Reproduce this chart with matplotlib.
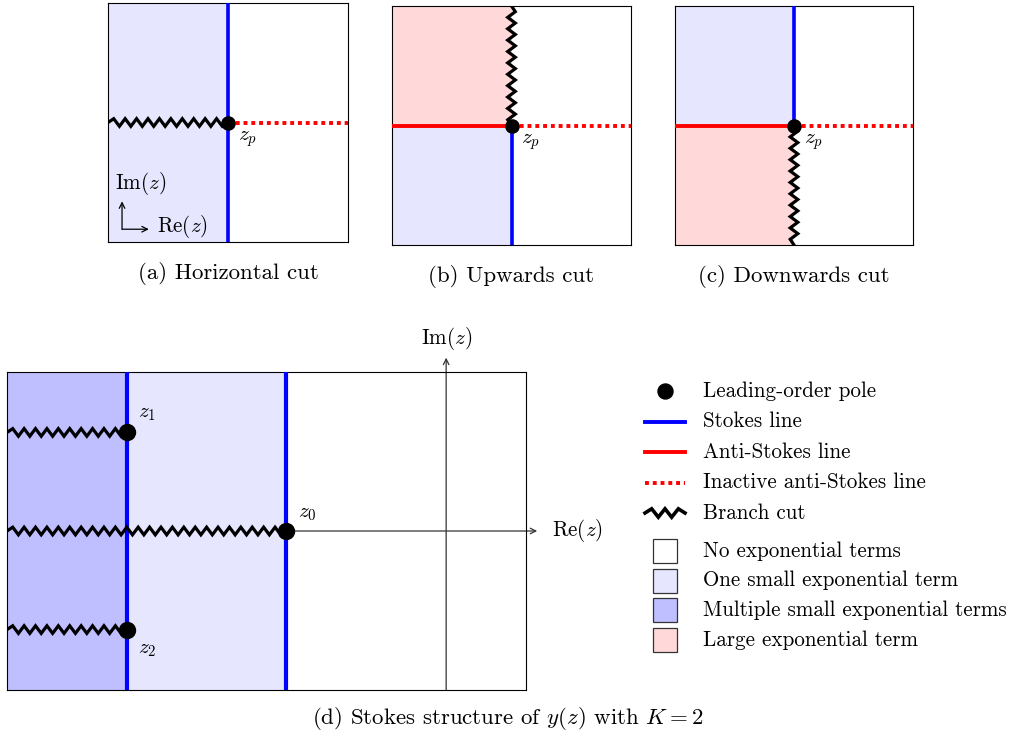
import numpy as np
import matplotlib
matplotlib.use("Agg")
import matplotlib.pyplot as plt
from matplotlib.patches import Rectangle

plt.rcParams['font.family'] = 'serif'
plt.rcParams['font.serif'] = ['cmr10']
plt.rcParams['mathtext.fontset'] = 'cm'
plt.rcParams['axes.unicode_minus'] = False

# colours (tikz-style tints)
STOKES = '#0000FF'
ANTI = '#FF0000'
ONE_SMALL = '#E6E6FF'
MULTI_SMALL = '#BFBFFF'
LARGE = '#FFD9D9'

# small panels: pole sits at the origin of a [-1, 1] box
zp = (0.0, 0.0)
panel_titles = ['(a) Horizontal cut', '(b) Upwards cut', '(c) Downwards cut']

# panel (d): pole positions in the complex plane
pole_re = [-1.0, -2.0, -2.0]
pole_im = [0.0, 0.62, -0.62]
pole_names = ['$z_0$', '$z_1$', '$z_2$']
stokes_re = [-2.0, -1.0]
re_lim = (-2.75, 0.5)
im_lim = (-1.0, 1.0)

line_labels = ['Leading-order pole', 'Stokes line', 'Anti-Stokes line',
               'Inactive anti-Stokes line', 'Branch cut']
region_labels = ['No exponential terms', 'One small exponential term',
                 'Multiple small exponential terms', 'Large exponential term']
region_colors = ['white', ONE_SMALL, MULTI_SMALL, LARGE]

W, H = 1015, 736
fig = plt.figure(figsize=(W / 100, H / 100), dpi=100)
FS = 15.2      # labels and legend
FS_CAP = 16.5  # sub-captions


def px_axes(x0, y0, x1, y1):
    ax = fig.add_axes([x0 / W, 1 - y1 / H, (x1 - x0) / W, (y1 - y0) / H])
    return ax


def frame(ax, xlim, ylim):
    ax.set_xlim(*xlim)
    ax.set_ylim(*ylim)
    ax.set_xticks([])
    ax.set_yticks([])
    for s in ax.spines.values():
        s.set_linewidth(0.8)
        s.set_color('black')


def zigzag(ax, p0, p1, period=11.5, amp=3.8, lw=2.3, clip=True):
    # build the zigzag in pixels so it looks the same in every panel
    a = ax.transData.transform(p0)
    b = ax.transData.transform(p1)
    d = b - a
    L = np.hypot(*d)
    n = max(2, int(round(L / (period / 2))))
    t = np.linspace(0, 1, n + 1)
    pts = a + np.outer(t, d)
    nrm = np.array([-d[1], d[0]]) / L
    offs = np.where(np.arange(n + 1) % 2 == 1, amp, -amp).astype(float)
    offs[0] = 0
    offs[-1] = 0
    pts = pts + np.outer(offs, nrm)
    xy = ax.transData.inverted().transform(pts)
    ax.plot(xy[:, 0], xy[:, 1], color='black', lw=lw,
            solid_joinstyle='miter', clip_on=clip, zorder=4)


def pole(ax, x, y, ms):
    ax.plot([x], [y], 'o', color='black', ms=ms, zorder=6, clip_on=False)


# ---- (a) horizontal cut
ax = px_axes(108, 3, 348, 242)
frame(ax, (-1, 1), (-1, 1))
ax.axvspan(-1, zp[0], color=ONE_SMALL, lw=0, zorder=0)
ax.axvline(zp[0], color=STOKES, lw=2.6, zorder=3)
ax.plot([zp[0], 1], [zp[1], zp[1]], color=ANTI, lw=2.8, ls=(0, (1, 1)),
        dash_capstyle='butt', zorder=3)
zigzag(ax, (-1, zp[1]), zp)
pole(ax, *zp, ms=9.5)
ax.text(0.08, -0.06, '$z_p$', fontsize=FS, ha='left', va='top')
ax.annotate('', xy=(-0.883, -0.66), xytext=(-0.883, -0.893),
            arrowprops=dict(arrowstyle='->', lw=0.9, color='black',
                            shrinkA=0, shrinkB=0))
ax.annotate('', xy=(-0.66, -0.893), xytext=(-0.883, -0.893),
            arrowprops=dict(arrowstyle='->', lw=0.9, color='black',
                            shrinkA=0, shrinkB=0))
ax.text(-0.73, -0.51, r'$\mathrm{Im}(z)$', fontsize=FS, ha='center', va='center')
ax.text(-0.59, -0.87, r'$\mathrm{Re}(z)$', fontsize=FS, ha='left', va='center')
ax.text(0.5, -0.13, panel_titles[0], transform=ax.transAxes, fontsize=FS_CAP,
        ha='center', va='center')

# ---- (b) upwards cut and (c) downwards cut
for k, (box, up) in enumerate([((392, 6, 631, 245), True),
                               ((675, 6, 913, 245), False)]):
    ax = px_axes(*box)
    frame(ax, (-1, 1), (-1, 1))
    top_col, bot_col = (LARGE, ONE_SMALL) if up else (ONE_SMALL, LARGE)
    ax.fill_between([-1, zp[0]], zp[1], 1, color=top_col, lw=0, zorder=0)
    ax.fill_between([-1, zp[0]], -1, zp[1], color=bot_col, lw=0, zorder=0)
    ax.plot([-1, zp[0]], [zp[1], zp[1]], color=ANTI, lw=2.8, zorder=3)
    ax.plot([zp[0], 1], [zp[1], zp[1]], color=ANTI, lw=2.8, ls=(0, (1, 1)),
            dash_capstyle='butt', zorder=3)
    sgn = -1 if up else 1
    ax.plot([zp[0], zp[0]], [zp[1], sgn], color=STOKES, lw=2.6, zorder=3)
    zigzag(ax, (zp[0], -sgn), zp)
    pole(ax, *zp, ms=9.5)
    ax.text(0.08, -0.06, '$z_p$', fontsize=FS, ha='left', va='top')
    ax.text(0.5, -0.13, panel_titles[k + 1], transform=ax.transAxes,
            fontsize=FS_CAP, ha='center', va='center')

# ---- (d) Stokes structure with K = 2
ax = px_axes(7, 372, 526, 690)
frame(ax, re_lim, im_lim)
ax.axvspan(re_lim[0], stokes_re[0], color=MULTI_SMALL, lw=0, zorder=0)
ax.axvspan(stokes_re[0], stokes_re[1], color=ONE_SMALL, lw=0, zorder=0)
for x in stokes_re:
    ax.axvline(x, color=STOKES, lw=3.0, zorder=3)

axis_col = '#333333'
ax.annotate('', xy=(0.57, 0), xytext=(pole_re[0], 0), annotation_clip=False,
            arrowprops=dict(arrowstyle='->', lw=0.9, color=axis_col,
                            shrinkA=0, shrinkB=0), zorder=2)
ax.annotate('', xy=(0, 1.09), xytext=(0, im_lim[0]), annotation_clip=False,
            arrowprops=dict(arrowstyle='->', lw=0.9, color=axis_col,
                            shrinkA=0, shrinkB=0), zorder=2)
ax.text(0.665, 0, r'$\mathrm{Re}(z)$', fontsize=FS, ha='left', va='center')
ax.text(0, 1.21, r'$\mathrm{Im}(z)$', fontsize=FS, ha='center', va='center')

for x, y, name in zip(pole_re, pole_im, pole_names):
    zigzag(ax, (re_lim[0], y), (x, y))
    pole(ax, x, y, ms=11.5)
    if y > 0:
        ax.text(x + 0.07, y + 0.06, name, fontsize=FS, ha='left', va='bottom')
    elif y < 0:
        ax.text(x + 0.07, y - 0.06, name, fontsize=FS, ha='left', va='top')
    else:
        ax.text(x + 0.07, y + 0.05, name, fontsize=FS, ha='left', va='bottom')

fig.text(0.5, 1 - 718 / H, r'(d) Stokes structure of $y(z)$ with $K=2$',
         fontsize=FS_CAP, ha='center', va='center')

# ---- legend, laid out in pixel units
lax = px_axes(630, 370, 1015, 660)
lax.set_xlim(0, 385)
lax.set_ylim(290, 0)
lax.axis('off')

rows1 = 21 + 30.5 * np.arange(len(line_labels))
rows2 = 181 + 29.7 * np.arange(len(region_labels))
hx0, hx1, tx = 15, 55, 73

lax.plot([35], [rows1[0]], 'o', color='black', ms=10.8)
lax.plot([hx0, hx1], [rows1[1]] * 2, color=STOKES, lw=2.8)
lax.plot([hx0, hx1], [rows1[2]] * 2, color=ANTI, lw=2.8)
lax.plot([hx0, hx1], [rows1[3]] * 2, color=ANTI, lw=2.8, ls=(0, (1, 1)),
         dash_capstyle='butt')
zigzag(lax, (hx0, rows1[4]), (hx1, rows1[4]), period=13.5, amp=4.2, lw=2.6,
       clip=False)
for y, lab in zip(rows1, line_labels):
    lax.text(tx, y, lab, fontsize=FS, ha='left', va='center')

for y, lab, col in zip(rows2, region_labels, region_colors):
    lax.add_patch(Rectangle((23, y - 12), 24, 24, facecolor=col,
                            edgecolor='#333333', lw=0.9))
    lax.text(tx, y, lab, fontsize=FS, ha='left', va='center')

fig.savefig('out.png', dpi=100)
